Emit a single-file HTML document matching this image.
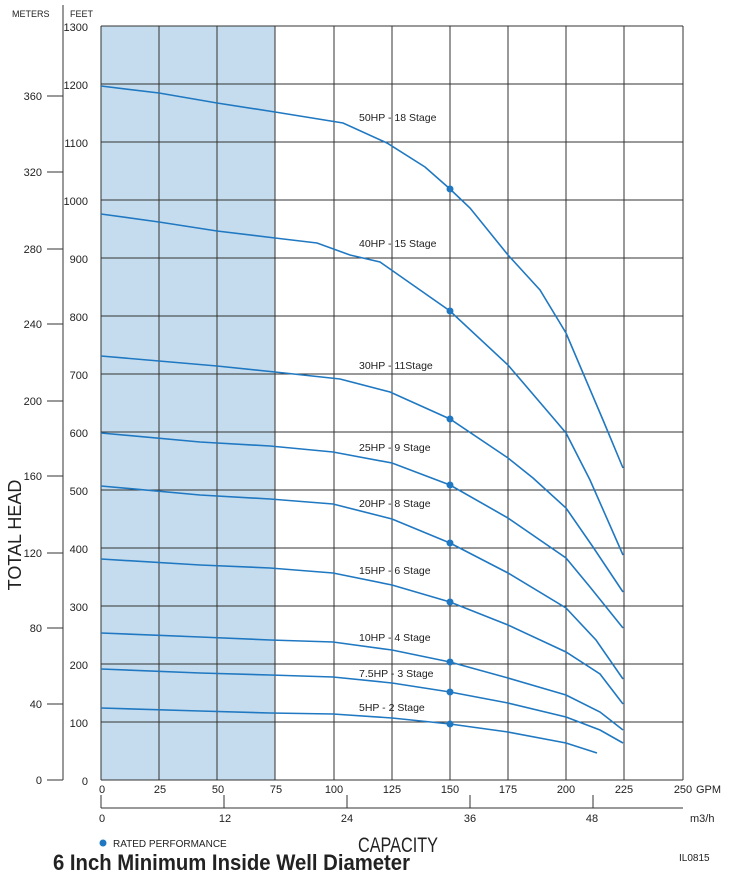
<!DOCTYPE html>
<html><head><meta charset="utf-8"><style>
body{margin:0;background:#fff}
svg{display:block}
text{font-family:"Liberation Sans",sans-serif;fill:#222}
</style></head><body>
<svg width="735" height="882" viewBox="0 0 735 882" xmlns="http://www.w3.org/2000/svg">
<rect x="101" y="26" width="174" height="754" fill="#c5dcee"/>
<g stroke="#333" stroke-width="1">
<line x1="101" y1="26" x2="683" y2="26"/><line x1="101" y1="84" x2="683" y2="84"/><line x1="101" y1="142" x2="683" y2="142"/><line x1="101" y1="200" x2="683" y2="200"/><line x1="101" y1="258" x2="683" y2="258"/><line x1="101" y1="316" x2="683" y2="316"/><line x1="101" y1="374" x2="683" y2="374"/><line x1="101" y1="432" x2="683" y2="432"/><line x1="101" y1="490" x2="683" y2="490"/><line x1="101" y1="548" x2="683" y2="548"/><line x1="101" y1="606" x2="683" y2="606"/><line x1="101" y1="664" x2="683" y2="664"/><line x1="101" y1="722" x2="683" y2="722"/>
<line x1="101" y1="26" x2="101" y2="780"/><line x1="159" y1="26" x2="159" y2="780"/><line x1="217" y1="26" x2="217" y2="780"/><line x1="275" y1="26" x2="275" y2="780"/><line x1="334" y1="26" x2="334" y2="780"/><line x1="392" y1="26" x2="392" y2="780"/><line x1="450" y1="26" x2="450" y2="780"/><line x1="508" y1="26" x2="508" y2="780"/><line x1="566" y1="26" x2="566" y2="780"/><line x1="624" y1="26" x2="624" y2="780"/><line x1="683" y1="26" x2="683" y2="780"/>
<line x1="101" y1="780" x2="683" y2="780"/>
<line x1="63" y1="5" x2="63" y2="780"/>
<line x1="101" y1="795" x2="101" y2="808"/><line x1="224" y1="795" x2="224" y2="808"/><line x1="347" y1="795" x2="347" y2="808"/><line x1="470" y1="795" x2="470" y2="808"/><line x1="593" y1="795" x2="593" y2="808"/>
<line x1="101" y1="808" x2="683" y2="808"/>
<g stroke-width="1">
<line x1="47" y1="96" x2="63" y2="96"/><line x1="47" y1="249" x2="63" y2="249"/><line x1="47" y1="324" x2="63" y2="324"/><line x1="47" y1="401" x2="63" y2="401"/><line x1="47" y1="476" x2="63" y2="476"/><line x1="47" y1="553" x2="63" y2="553"/><line x1="47" y1="628" x2="63" y2="628"/><line x1="47" y1="704" x2="63" y2="704"/><line x1="47" y1="780" x2="63" y2="780"/><line x1="47" y1="172" x2="63" y2="172"/>
</g>
</g>
<g fill="none" stroke="#1f78c1" stroke-width="1.6">
<polyline points="101,86 159,93 217,103 275,112 343,123 387,143 425,167 450,189 470,208 508,255 540,290 566,333 583,373 603,420 623,468"/>
<polyline points="101,214 159,222 217,231 275,238 317,243 350,255 380,262 450,311 508,365 555,420 566,433 590,480 623,555"/>
<polyline points="101,356 159,361 217,366 275,372 340,379 390,392 450,419 508,458 533,478 566,508 593,547 623,592"/>
<polyline points="101,433 200,442 270,446 333,452 392,463 450,485 508,518 566,558 590,587 623,628"/>
<polyline points="101,486 200,495 270,499 333,504 392,519 450,543 508,573 566,608 596,640 623,679"/>
<polyline points="101,559 200,565 270,568 333,573 392,585 450,602 508,625 566,652 600,674 623,704"/>
<polyline points="101,633 200,637 270,640 333,642 392,650 450,662 508,678 566,695 600,712 623,730"/>
<polyline points="101,669 200,673 270,675 333,677 392,683 450,692 508,703 566,717 600,730 623,743"/>
<polyline points="101,708 200,711 270,713 333,714 392,718 450,724 508,732 566,743 597,753"/>
</g>
<g fill="#1f78c1">
<circle cx="450" cy="189" r="3.5"/><circle cx="450" cy="311" r="3.5"/><circle cx="450" cy="419" r="3.5"/><circle cx="450" cy="485" r="3.5"/><circle cx="450" cy="543" r="3.5"/><circle cx="450" cy="602" r="3.5"/><circle cx="450" cy="662" r="3.5"/><circle cx="450" cy="692" r="3.5"/><circle cx="450" cy="724" r="3.5"/>
<circle cx="103" cy="843" r="3.5"/>
</g>
<g font-size="10.5">
<text x="359" y="121">50HP - 18 Stage</text>
<text x="359" y="247">40HP - 15 Stage</text>
<text x="359" y="369">30HP - 11Stage</text>
<text x="359" y="451">25HP - 9 Stage</text>
<text x="359" y="507">20HP - 8 Stage</text>
<text x="359" y="574">15HP - 6 Stage</text>
<text x="359" y="641">10HP - 4 Stage</text>
<text x="359" y="677">7.5HP - 3 Stage</text>
<text x="359" y="711">5HP - 2 Stage</text>
</g>
<g font-size="11" text-anchor="end">
<text x="88" y="31">1300</text><text x="88" y="89">1200</text><text x="88" y="147">1100</text><text x="88" y="205">1000</text><text x="88" y="263">900</text><text x="88" y="321">800</text><text x="88" y="379">700</text><text x="88" y="437">600</text><text x="88" y="495">500</text><text x="88" y="553">400</text><text x="88" y="611">300</text><text x="88" y="669">200</text><text x="88" y="727">100</text><text x="88" y="785">0</text>
<text x="42" y="100">360</text><text x="42" y="176">320</text><text x="42" y="253">280</text><text x="42" y="328">240</text><text x="42" y="405">200</text><text x="42" y="480">160</text><text x="42" y="557">120</text><text x="42" y="632">80</text><text x="42" y="708">40</text><text x="42" y="784">0</text>
</g>
<g font-size="9"><text x="12" y="17">METERS</text><text x="70" y="17">FEET</text></g>
<g font-size="11" text-anchor="middle">
<text x="102" y="793">0</text><text x="160" y="793">25</text><text x="218" y="793">50</text><text x="276" y="793">75</text><text x="334" y="793">100</text><text x="392" y="793">125</text><text x="450" y="793">150</text><text x="508" y="793">175</text><text x="566" y="793">200</text><text x="624" y="793">225</text><text x="683" y="793">250</text>
<text x="102" y="822">0</text><text x="225" y="822">12</text><text x="347" y="822">24</text><text x="470" y="822">36</text><text x="592" y="822">48</text>
</g>
<text x="696" y="793" font-size="11">GPM</text>
<text x="690" y="822" font-size="11">m3/h</text>
<text x="113" y="847" font-size="10">RATED PERFORMANCE</text>
<text x="358" y="852" font-size="21" textLength="80" lengthAdjust="spacingAndGlyphs">CAPACITY</text>
<text x="53" y="870" font-size="22" font-weight="bold" textLength="357" lengthAdjust="spacingAndGlyphs">6 Inch Minimum Inside Well Diameter</text>
<text x="679" y="861" font-size="10">IL0815</text>
<text transform="translate(21,535) rotate(-90)" font-size="18" text-anchor="middle">TOTAL HEAD</text>
</svg>
</body></html>
